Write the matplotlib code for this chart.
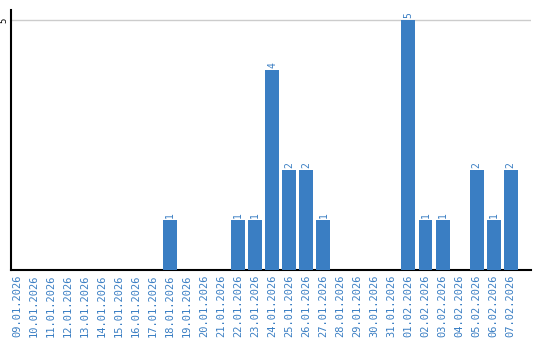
import matplotlib
matplotlib.use("Agg")
import matplotlib.pyplot as plt
import datetime as dt

start = dt.date(2026, 1, 9)
dates = [(start + dt.timedelta(days=i)).strftime("%d.%m.%Y") for i in range(30)]
counts = {"18.01.2026": 1, "22.01.2026": 1, "23.01.2026": 1, "24.01.2026": 4,
          "25.01.2026": 2, "26.01.2026": 2, "27.01.2026": 1, "01.02.2026": 5,
          "02.02.2026": 1, "03.02.2026": 1, "05.02.2026": 2, "06.02.2026": 1,
          "07.02.2026": 2}
values = [counts.get(d, 0) for d in dates]

blue = "#3a7ec3"
fig = plt.figure(figsize=(5.4, 3.4), dpi=100)
ax = fig.add_axes([0.0204, 0.206, 0.963, 0.764])
x = list(range(len(dates)))
bars = ax.bar(x, values, width=0.82, color=blue, zorder=3)
for xi, v in zip(x, values):
    if v > 0:
        ax.text(xi, v + 0.04, str(v), rotation=90, ha="center", va="bottom",
                color=blue, fontsize=7, family="DejaVu Sans Mono")
ax.set_xlim(-0.35, len(dates) + 0.2)
ax.set_ylim(0, 5.2)
ax.set_yticks([5])
ax.set_yticklabels(["5"], rotation=90, va="center", fontsize=6.5, family="DejaVu Sans Mono")
ax.tick_params(axis="y", length=0, pad=2)
ax.yaxis.grid(True, color="#cccccc", linewidth=1, zorder=0)
ax.set_xticks(x)
ax.set_xticklabels(dates, rotation=90, fontsize=7.5, color=blue, family="DejaVu Sans Mono")
ax.tick_params(axis="x", length=0, pad=3)
for s in ["top", "right"]:
    ax.spines[s].set_visible(False)
ax.spines["left"].set_linewidth(1.5)
ax.spines["bottom"].set_linewidth(1.5)
fig.savefig("out.png", dpi=100)
